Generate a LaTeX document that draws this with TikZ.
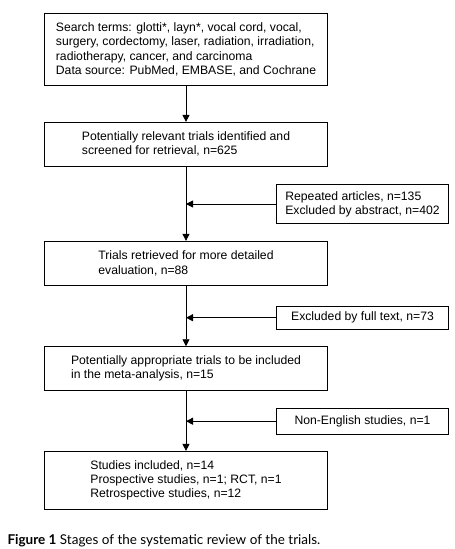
\documentclass[tikz,border=0pt]{standalone}
\usepackage{fontspec}
\setmainfont{Liberation Sans}
\newfontfamily\capfont{Lato}
\usetikzlibrary{arrows.meta}
\begin{document}
\begin{tikzpicture}[x=1pt,y=-1pt,
  box/.style={draw=black,line width=0.9pt,align=left,inner sep=0pt,
    font=\fontsize{12.2}{14.3}\selectfont},
  mainbox/.style={box,minimum width=283pt},
  sidebox/.style={box,minimum width=171.6pt},
  arr/.style={line width=0.9pt,-{Triangle[length=7pt,width=7pt]}}]
\useasboundingbox (0,0) rectangle (455,549);
\node[mainbox,minimum height=71.6pt] (b1) at (186,49.5) {Search terms: glotti*, layn*, vocal cord, vocal,\\surgery, cordectomy, laser, radiation, irradiation,\\radiotherapy, cancer, and carcinoma\\Data source: PubMed, EMBASE, and Cochrane};
\node[mainbox,minimum height=43.7pt] (b2) at (186,144.2) {Potentially relevant trials identified and\\screened for retrieval, n=625};
\node[sidebox,minimum height=38.6pt] (r1) at (362.5,204) {Repeated articles, n=135\\Excluded by abstract, n=402};
\node[mainbox,minimum height=44pt] (b3) at (186,263.3) {Trials retrieved for more detailed\\evaluation, n=88};
\node[sidebox,minimum height=23.3pt] (r2) at (362.5,317.7) {Excluded by full text, n=73};
\node[mainbox,minimum height=43.6pt] (b4) at (186,368.5) {Potentially appropriate trials to be included\\in the meta-analysis, n=15};
\node[sidebox,minimum height=25.7pt] (r3) at (362.5,421.2) {Non-English studies, n=1};
\node[mainbox,minimum height=57.7pt] (b5) at (186,480.2) {Studies included, n=14\\Prospective studies, n=1; RCT, n=1\\Retrospective studies, n=12};
\draw[arr] (b1) -- (b2);
\draw[arr] (b2) -- (b3);
\draw[arr] (b3) -- (b4);
\draw[arr] (b4) -- (b5);
\draw[arr] (r1.west) -- (r1.west -| b2.south);
\draw[arr] (r2.west) -- (r2.west -| b3.south);
\draw[arr] (r3.west) -- (r3.west -| b4.south);
\node[anchor=base west,inner sep=0pt,font=\capfont\fontsize{13.5}{15}\selectfont] (cap) at (7.3,544) {\textbf{Figure 1} Stages of the systematic review of the trials.};
\end{tikzpicture}
\end{document}
